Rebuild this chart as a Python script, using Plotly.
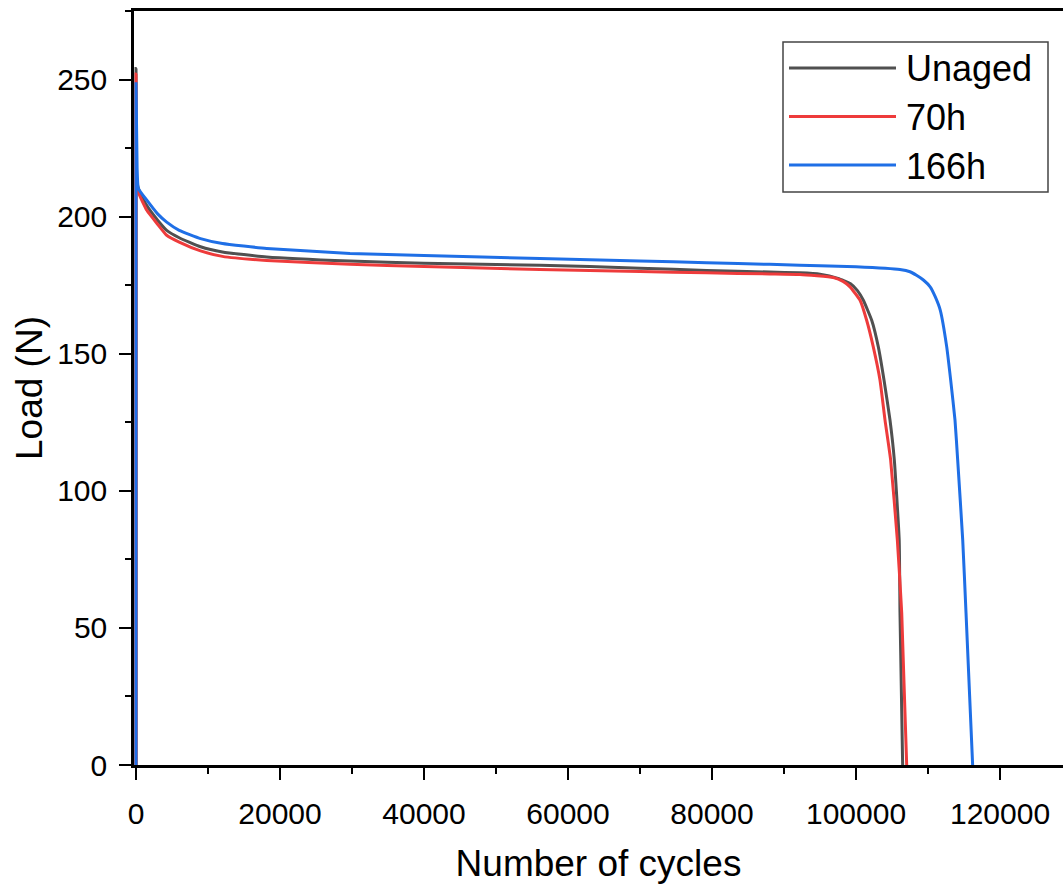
import plotly.graph_objects as go

# Fatigue curves: load vs number of cycles for three ageing states
series_names = ["Unaged", "70h", "166h"]
series_colors = ["#505050", "#EE3B3B", "#1F6FE6"]

unaged_cycles = [0, 0, 100, 500, 1500, 3000, 4260, 6000, 8960, 12000, 18150, 29720,
                 40000, 56110, 70000, 79260, 88000, 92200, 95000, 97500, 99200, 100200,
                 101020, 102180, 103100, 103890, 104720, 105320, 106000, 106110, 106480]
unaged_load = [0, 254, 213, 209, 204, 198.7, 195, 192.3, 189, 187.1, 185.3, 183.8,
               183, 182.3, 181.2, 180.4, 179.8, 179.5, 179, 177.5, 175.6, 173,
               169.5, 162.2, 152.5, 140.4, 125.8, 111.3, 82.1, 55.5, 0]

h70_cycles = [0, 0, 100, 300, 1500, 3000, 4260, 6000, 8960, 12000, 18150, 29720,
              40000, 56110, 70000, 79260, 88000, 92200, 96850, 98200, 99170, 100560,
              101480, 102400, 103330, 104030, 104810, 105740, 106350, 107040]
h70_load = [0, 252, 212, 209, 202.3, 197.2, 193.2, 190.7, 187.5, 185.5, 184, 182.6,
            181.8, 180.7, 180, 179.5, 179.1, 178.9, 177.8, 176.4, 174.4, 169.5,
            162.2, 152.5, 140.4, 125.8, 111.3, 82.1, 55.5, 0]

h166_cycles = [0, 0, 150, 320, 1500, 3000, 4260, 6000, 8960, 12000, 18150, 29720,
               40000, 56110, 70000, 79260, 88000, 92200, 95000, 100000, 106100,
               107500, 108400, 109400, 110300, 111000, 111700, 112600, 113150,
               113750, 114120, 114820, 115280, 116200]
h166_load = [0, 249, 218, 210.3, 206, 201, 198, 195, 192, 190.2, 188.4, 186.6,
             185.8, 184.7, 183.8, 183.2, 182.6, 182.3, 182.1, 181.7, 180.7,
             179.9, 178.6, 176.8, 174.4, 170.8, 165.9, 152.5, 140.4,
             125.8, 111.3, 82.1, 55.5, 0]

x_title = "Number of cycles"
y_title = "Load (N)"

FONT = "Arial, Liberation Sans, sans-serif"
W, H = 1063, 886
ML, MR, MT, MB = 134, 0, 11, 121

fig = go.Figure()
for name, color, xs, ys in zip(series_names, series_colors,
                               [unaged_cycles, h70_cycles, h166_cycles],
                               [unaged_load, h70_load, h166_load]):
    fig.add_trace(go.Scatter(x=xs, y=ys, mode="lines", name=name,
                             line=dict(color=color, width=3, shape="spline", smoothing=0.4),
                             showlegend=False))

# Hand-built legend box (long line samples)
pw, ph = W - ML - MR, H - MT - MB
def px_x(p):
    return (p - ML) / pw
def px_y(p):
    return (H - MB - p) / ph

fig.add_shape(type="rect", xref="paper", yref="paper",
              x0=px_x(783), x1=px_x(1048), y0=px_y(192), y1=px_y(42),
              line=dict(color="#444444", width=1.5), fillcolor="white", layer="above")
for i, (name, color) in enumerate(zip(series_names, series_colors)):
    yy = 68 + i * 48.5
    fig.add_shape(type="line", xref="paper", yref="paper",
                  x0=px_x(789), x1=px_x(896), y0=px_y(yy), y1=px_y(yy),
                  line=dict(color=color, width=3), layer="above")
    fig.add_annotation(xref="paper", yref="paper", x=px_x(904), y=px_y(yy + 1),
                       text=name, showarrow=False, xanchor="left", yanchor="middle",
                       font=dict(family=FONT, size=36, color="black"))

axis_common = dict(
    showline=True, linecolor="black", linewidth=2.5,
    ticks="outside", ticklen=12, tickwidth=2, tickcolor="black",
    showgrid=False, zeroline=False,
    tickfont=dict(family=FONT, size=30, color="black"),
)

fig.update_xaxes(range=[-280, 128750], tickvals=[0, 20000, 40000, 60000, 80000, 100000, 120000],
                 ticktext=["0", "20000", "40000", "60000", "80000", "100000", "120000"],
                 mirror=True,
                 minor=dict(tickvals=[10000, 30000, 50000, 70000, 90000, 110000],
                            ticks="outside", ticklen=6, tickwidth=2, tickcolor="black"),
                 ticklabelstandoff=8,
                 title=dict(text=x_title, font=dict(family=FONT, size=37, color="black"),
                            standoff=22),
                 **axis_common)
fig.update_yaxes(range=[0, 275], dtick=50, tick0=0, mirror=False,
                 minor=dict(dtick=25, ticks="outside", ticklen=6, tickwidth=2,
                            tickcolor="black"),
                 ticklabelstandoff=6,
                 title=dict(text=y_title, font=dict(family=FONT, size=37, color="black"),
                            standoff=4),
                 **axis_common)

fig.update_layout(width=W, height=H,
                  margin=dict(l=ML, r=MR, t=MT, b=MB),
                  plot_bgcolor="white", paper_bgcolor="white",
                  font=dict(family=FONT, color="black"))

fig.write_html("out.html")
